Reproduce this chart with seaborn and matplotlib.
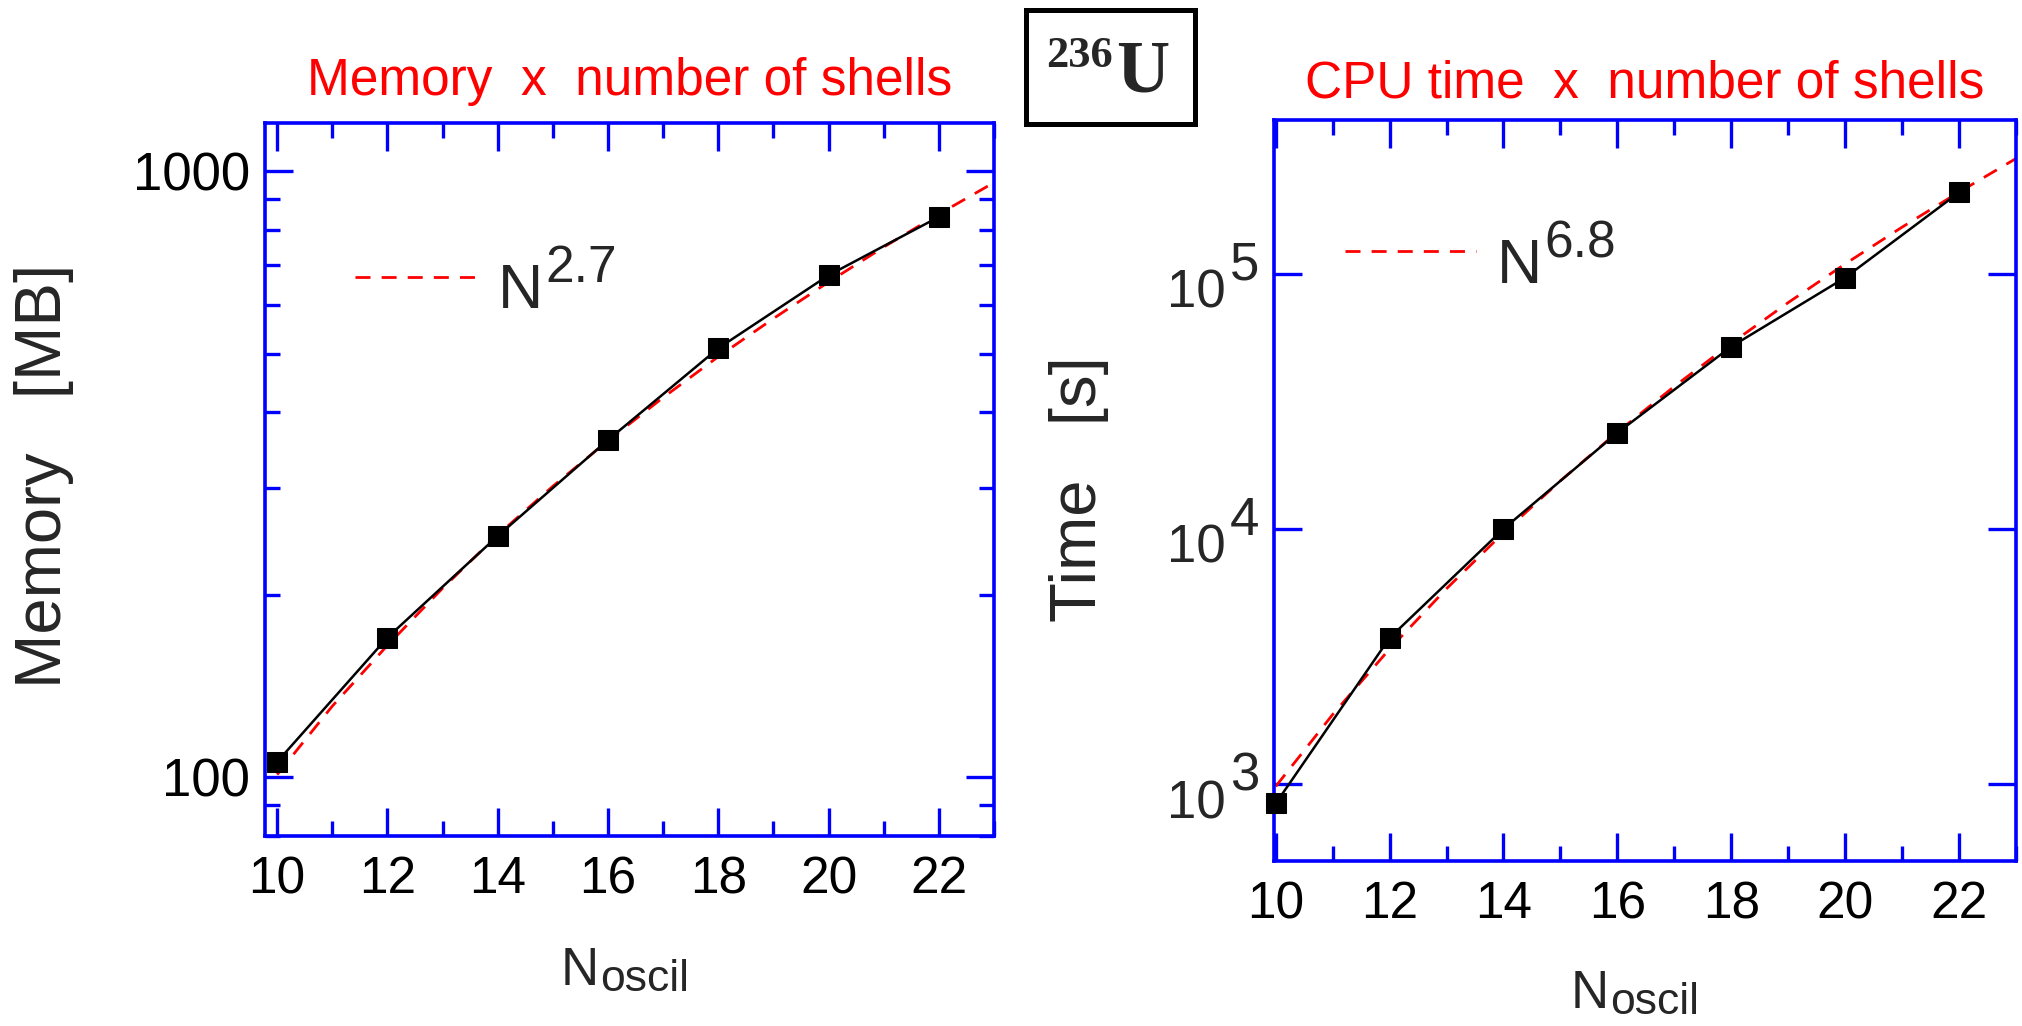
import matplotlib
matplotlib.use("Agg")
import matplotlib.pyplot as plt
import seaborn as sns
from matplotlib.ticker import FixedLocator, NullLocator, LogLocator, MultipleLocator, NullFormatter, FuncFormatter
from matplotlib.patches import Rectangle
from matplotlib.lines import Line2D

# ---------------- data ----------------
n_shells = [10, 12, 14, 16, 18, 20, 22]
memory_mb = [106, 170, 250, 360, 510, 673, 840]
cpu_time_s = [840, 3740, 10000, 23800, 51800, 96500, 208000]

fit_n = [10, 11, 12, 13, 14, 15, 16, 17, 18, 19, 20, 21, 22, 23]
memory_fit = [101, 131, 165, 205, 251, 302, 359, 423, 494, 571, 656, 749, 849, 957]
time_fit = [980, 1874, 3386, 5835, 9658, 15440, 23940, 36160, 53340, 77040,
            109200, 152200, 208800, 282500]

x_major_ticks = [10, 12, 14, 16, 18, 20, 22]
mem_ticks = [100, 1000]
time_tick_values = [1e3, 1e4, 1e5]
time_tick_exps = ["3", "4", "5"]

mem_title = "Memory  x  number of shells"
time_title = "CPU time  x  number of shells"
mem_ylabel = "Memory   [MB]"
time_ylabel = "Time   [s]"
mem_fit_exp = "2.7"
time_fit_exp = "6.8"

# ---------------- style ----------------
sns.set_theme(style="ticks")
plt.rcParams["font.family"] = ["Liberation Sans", "DejaVu Sans"]

BLUE = "#0000FF"
RED = "#FF0000"
PX = 0.72  # points per pixel at dpi 100

fig = plt.figure(figsize=(20.22, 10.26), dpi=100)
fig.patch.set_facecolor("white")

ax1 = fig.add_axes([265 / 2022, (1026 - 836) / 1026, 729 / 2022, 713 / 1026])
ax2 = fig.add_axes([1274 / 2022, (1026 - 861) / 1026, 742 / 2022, 741 / 1026])


def style_axes(ax):
    ax.set_facecolor("white")
    for sp in ax.spines.values():
        sp.set_color(BLUE)
        sp.set_linewidth(2.6)
        sp.set_visible(True)
    ax.tick_params(which="both", direction="in", top=True, right=True,
                   color=BLUE, labelcolor="black", width=2.4)
    ax.tick_params(which="major", length=20)
    ax.tick_params(which="minor", length=10.5)
    ax.xaxis.set_major_locator(FixedLocator(x_major_ticks))
    ax.xaxis.set_minor_locator(MultipleLocator(1))
    ax.tick_params(axis="x", which="major", labelsize=37, pad=14)
    ax.grid(False)


def draw_panel(ax, y_data, y_fit):
    sns.lineplot(x=fit_n, y=y_fit, ax=ax, color=RED, lw=2.0,
                 linestyle=(0, (5.4, 4.0)), zorder=2)
    sns.lineplot(x=n_shells, y=y_data, ax=ax, color="black", lw=1.8,
                 marker="s", markersize=14.5, markeredgecolor="black",
                 markerfacecolor="black", zorder=3, clip_on=False)


# ---------------- left panel ----------------
draw_panel(ax1, memory_mb, memory_fit)
ax1.set_yscale("log")
style_axes(ax1)
ax1.set_xlim(9.78, 23.0)
ax1.set_ylim(80, 1200)
ax1.yaxis.set_major_locator(FixedLocator(mem_ticks))
ax1.yaxis.set_major_formatter(FuncFormatter(lambda v, p: f"{int(round(v))}"))
ax1.yaxis.set_minor_locator(LogLocator(base=10, subs=[2, 3, 4, 5, 6, 7, 8, 9]))
ax1.yaxis.set_minor_formatter(NullFormatter())
ax1.tick_params(axis="y", which="major", labelsize=38, pad=11)
ax1.set_xlabel("")
ax1.set_ylabel("")

# ---------------- right panel ----------------
draw_panel(ax2, cpu_time_s, time_fit)
ax2.set_yscale("log")
style_axes(ax2)
ax2.set_xlim(9.97, 23.0)
ax2.set_ylim(500, 4.0e5)
ax2.yaxis.set_major_locator(FixedLocator(time_tick_values))
ax2.yaxis.set_major_formatter(NullFormatter())
ax2.yaxis.set_minor_locator(NullLocator())
ax2.set_xlabel("")
ax2.set_ylabel("")

ytr = ax2.get_yaxis_transform()
for v, e in zip(time_tick_values, time_tick_exps):
    ax2.annotate("10", xy=(0, v), xycoords=ytr, xytext=(-48 * PX, -34 * PX),
                 textcoords="offset points", ha="right", va="baseline",
                 fontsize=38, annotation_clip=False)
    ax2.annotate(e, xy=(0, v), xycoords=ytr, xytext=(-15 * PX, -6 * PX),
                 textcoords="offset points", ha="right", va="baseline",
                 fontsize=38, annotation_clip=False)

# ---------------- titles ----------------
ax1.set_title(mem_title, color=RED, fontsize=37, pad=28 * PX)
ax2.set_title(time_title, color=RED, fontsize=37, pad=23 * PX)

# ---------------- y labels ----------------
ax1.text(-0.303, 0.505, mem_ylabel, transform=ax1.transAxes, rotation=90,
         ha="center", va="center", fontsize=47)
ax2.text(-0.263, 0.502, time_ylabel, transform=ax2.transAxes, rotation=90,
         ha="center", va="center", fontsize=47)

# ---------------- x labels (N with subscript) ----------------
def x_label(ax, xf, yf):
    ax.annotate("N", xy=(xf, yf), xycoords="axes fraction", ha="left",
                va="baseline", fontsize=38, annotation_clip=False)
    ax.annotate("oscil", xy=(xf, yf), xycoords="axes fraction",
                xytext=(39 * PX, -6 * PX), textcoords="offset points",
                ha="left", va="baseline", fontsize=32, annotation_clip=False)


x_label(ax1, (561 - 265) / 729, (836 - 985) / 713)
x_label(ax2, (1571 - 1274) / 742, (861 - 1008) / 741)

# ---------------- legends (fit) ----------------
def fit_legend(ax, x0, x1, yl, xn, yn, exp):
    ax.add_line(Line2D([x0, x1], [yl, yl], transform=ax.transAxes, color=RED,
                       lw=2.0, linestyle=(0, (5.4, 4.0)), clip_on=False))
    ax.annotate("N", xy=(xn, yn), xycoords="axes fraction", ha="left",
                va="baseline", fontsize=45, annotation_clip=False)
    ax.annotate(exp, xy=(xn, yn), xycoords="axes fraction",
                xytext=(47 * PX, 26 * PX), textcoords="offset points",
                ha="left", va="baseline", fontsize=37, annotation_clip=False)


fit_legend(ax1, 0.1235, 0.291, 0.784, (498 - 265) / 729, (836 - 308) / 713, mem_fit_exp)
fit_legend(ax2, 0.0957, 0.2722, 0.823, (1497 - 1274) / 742, (861 - 283) / 741, time_fit_exp)

# ---------------- 236U box ----------------
fig.patches.append(Rectangle((1025.5 / 2022, (1026 - 123.5) / 1026), 169 / 2022,
                             113 / 1026, transform=fig.transFigure, fill=False,
                             edgecolor="black", lw=3.6))
fig.text(1046 / 2022, (1026 - 67) / 1026, "236", fontsize=32, fontweight="bold",
         family=["Liberation Serif", "DejaVu Serif"], ha="left", va="baseline")
fig.text(1116 / 2022, (1026 - 92) / 1026, "U", fontsize=53, fontweight="bold",
         family=["Liberation Serif", "DejaVu Serif"], ha="left", va="baseline")

fig.savefig("out.png", dpi=100, facecolor="white")
